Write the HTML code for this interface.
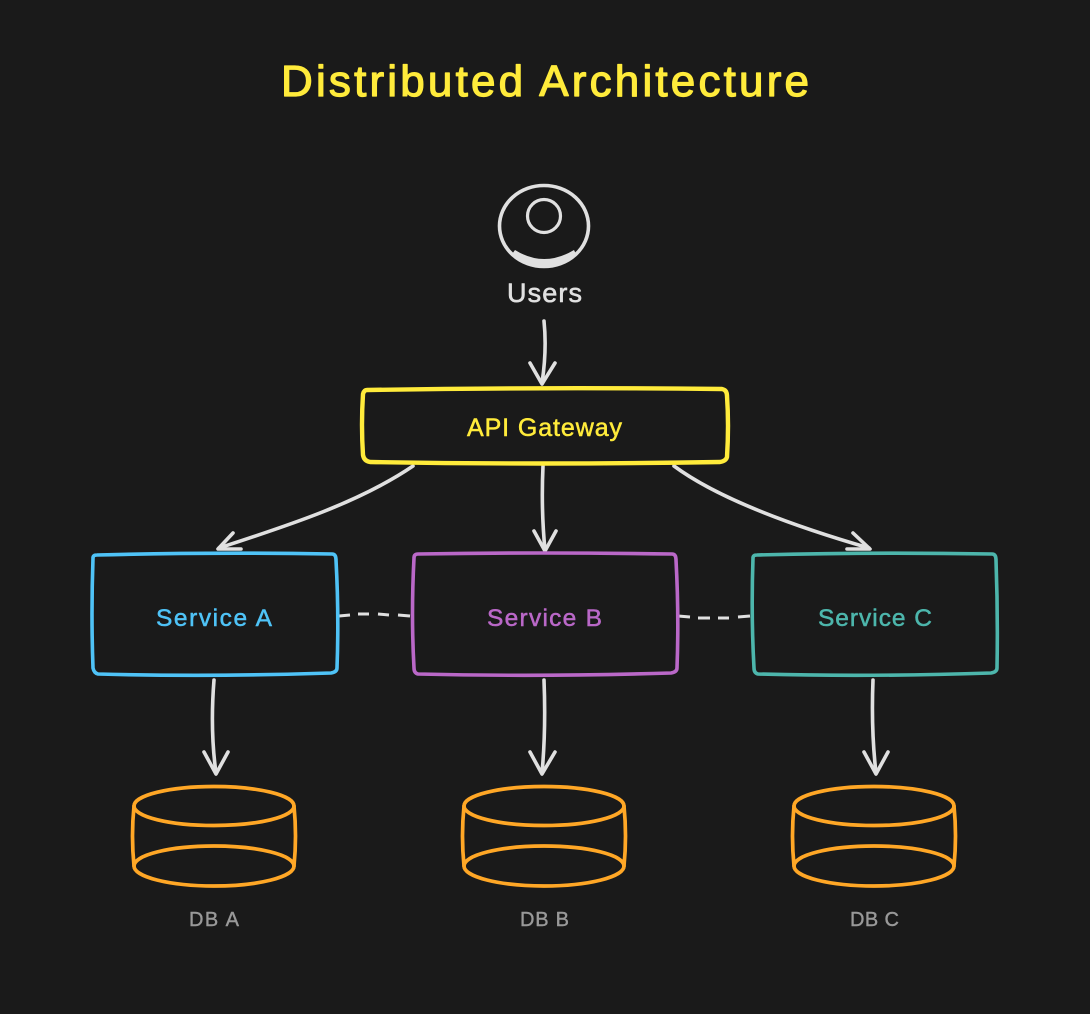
<!DOCTYPE html>
<html>
<head>
<meta charset="utf-8">
<style>
html,body{margin:0;padding:0;background:#1a1a1a;width:1090px;height:1014px;overflow:hidden}
svg{display:block}
text{font-family:"Liberation Sans",sans-serif;stroke-linejoin:round}
.s{fill:none;stroke-linecap:round;stroke-linejoin:round}
</style>
</head>
<body>
<svg width="1090" height="1014" viewBox="0 0 1090 1014" xmlns="http://www.w3.org/2000/svg">
<rect width="1090" height="1014" fill="#1a1a1a"/>
<text x="281" y="96" font-size="44" fill="#ffeb3b" stroke="#ffeb3b" stroke-width="1.2" textLength="528" lengthAdjust="spacing">Distributed Architecture</text>

<g class="s" stroke="#e0e0e0">
<ellipse cx="544" cy="226" rx="44.5" ry="40.5" stroke-width="3.6"/>
<circle cx="544" cy="216" r="16.5" stroke-width="3.2"/>
</g>
<path fill="#e0e0e0" d="M515 250Q544 268 574 250L576 254A44.5 40.5 0 0 1 512 254Z"/>
<text x="507" y="302" font-size="27" fill="#e0e0e0" stroke="#e0e0e0" stroke-width=".6" textLength="75" lengthAdjust="spacing">Users</text>

<g class="s" stroke="#e0e0e0" stroke-width="3.6">
<path d="M544 321Q547 350 542 383"/>
<path d="M530 363L542 384L555 363"/>
<path d="M413 466C360 502 290 525 219 548"/>
<path d="M233 533L218 549L241 549"/>
<path d="M543 466Q541 510 545 550"/>
<path d="M534 531L545 551L556 531"/>
<path d="M674 466C720 500 800 528 869 548"/>
<path d="M853 533L870 549L847 549"/>
<path d="M214 680Q210 730 216 773"/>
<path d="M204 752L216 774L228 752"/>
<path d="M544 680Q546 730 542 773"/>
<path d="M530 752L542 774L555 752"/>
<path d="M873 680Q871 730 876 773"/>
<path d="M864 752L876 774L888 752"/>
</g>
<g fill="none" stroke="#e0e0e0" stroke-width="3">
<path d="M339 616L350 615M358 614L369 614M378 614L389 615M398 615L410 616"/>
<path d="M678 616L690 617M698 618L710 618M718 618L729 618M738 617L750 616"/>
</g>

<path class="s" stroke="#ffeb3b" stroke-width="4.4" d="M367 390Q540 387 722 389Q727 390 727 396Q729 425 727 457Q726 461 720 462Q540 465 370 462Q364 461 363 455Q361 425 363 394Q364 390 367 390Z"/>
<text x="467" y="436" font-size="25" fill="#ffeb3b" stroke="#ffeb3b" stroke-width=".5" textLength="155" lengthAdjust="spacing">API Gateway</text>

<path class="s" stroke="#4fc3f7" stroke-width="3.6" d="M97 555Q210 552 332 554Q336 554 336 560Q339 615 337 668Q337 672 331 673Q210 677 98 674Q94 673 93 668Q91 615 93 558Q93 555 97 555Z"/>
<text x="156" y="626" font-size="24.5" fill="#4fc3f7" stroke="#4fc3f7" stroke-width=".5" textLength="116" lengthAdjust="spacing">Service A</text>

<path class="s" stroke="#ba68c8" stroke-width="3.6" d="M418 554Q540 552 672 554Q676 554 676 560Q679 615 677 668Q677 672 671 673Q540 677 418 674Q414 673 414 668Q411 615 414 558Q414 554 418 554Z"/>
<text x="487" y="626" font-size="24.5" fill="#ba68c8" stroke="#ba68c8" stroke-width=".5" textLength="115" lengthAdjust="spacing">Service B</text>

<path class="s" stroke="#4db6ac" stroke-width="3.6" d="M757 555Q870 552 992 554Q996 554 996 560Q998 615 997 668Q997 672 991 673Q870 677 758 674Q754 673 754 668Q751 615 753 558Q753 555 757 555Z"/>
<text x="818" y="626" font-size="24.5" fill="#4db6ac" stroke="#4db6ac" stroke-width=".5" textLength="114" lengthAdjust="spacing">Service C</text>

<g class="s" stroke="#ffa726" stroke-width="3.7">
<g>
<ellipse cx="214" cy="806" rx="80" ry="19.5"/>
<ellipse cx="214" cy="866" rx="80" ry="20"/>
<path d="M134 806Q131 836 134 866M294 806Q297 836 294 866"/>
</g>
<g>
<ellipse cx="544" cy="806" rx="80" ry="19.5"/>
<ellipse cx="544" cy="866" rx="80" ry="20"/>
<path d="M464 806Q461 836 464 866M624 806Q627 836 624 866"/>
</g>
<g>
<ellipse cx="874" cy="806" rx="80" ry="19.5"/>
<ellipse cx="874" cy="866" rx="80" ry="20"/>
<path d="M794 806Q791 836 794 866M954 806Q957 836 954 866"/>
</g>
</g>
<text x="189" y="926" font-size="20" fill="#999999" stroke="#999999" stroke-width=".4" textLength="50" lengthAdjust="spacing">DB A</text>
<text x="520" y="926" font-size="20" fill="#999999" stroke="#999999" stroke-width=".4" textLength="49" lengthAdjust="spacing">DB B</text>
<text x="850" y="926" font-size="20" fill="#999999" stroke="#999999" stroke-width=".4" textLength="49" lengthAdjust="spacing">DB C</text>
</svg>
</body>
</html>
